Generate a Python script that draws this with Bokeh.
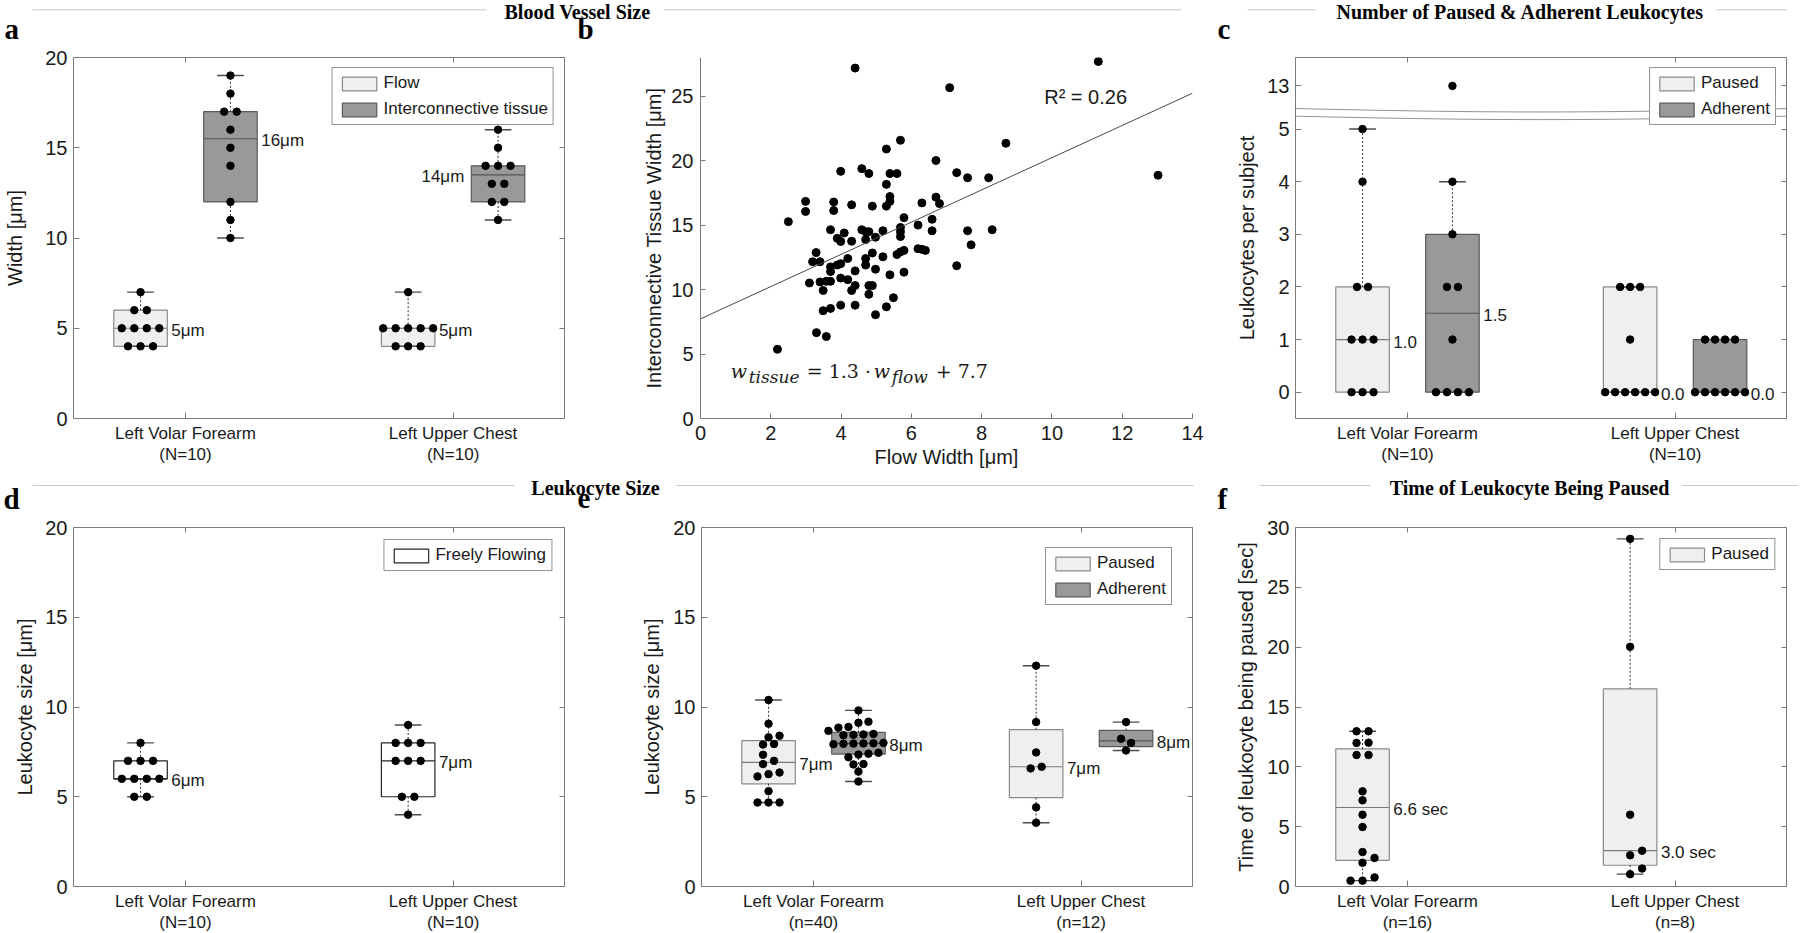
import numpy as np
from bokeh.plotting import figure
from bokeh.models import Range1d, LinearAxis, FixedTicker, Legend, LegendItem
from bokeh.layouts import column, row
from bokeh.core.properties import value
from bokeh.embed import file_html
from bokeh.resources import INLINE

# ============================ DATA ============================
site_names = ["Left Volar Forearm", "Left Upper Chest"]
section_titles = ["Blood Vessel Size", "Number of Paused & Adherent Leukocytes",
                  "Leukocyte Size", "Time of Leukocyte Being Paused"]
panel_letters = ["a", "b", "c", "d", "e", "f"]

# (a) blood vessel width per subject [um]
a_series = ["Flow", "Interconnective tissue"]
a_flow_forearm = [7, 6, 6, 5, 5, 5, 5, 4, 4, 4]
a_tissue_forearm = [19, 18, 17, 17, 16, 15, 14, 12, 11, 10]
a_flow_chest = [7, 5, 5, 5, 5, 5, 4, 4, 4]
a_tissue_chest = [16, 15, 14, 14, 14, 13, 13, 12, 12, 11]
a_counts = ["(N=10)", "(N=10)"]
a_yticks = [0, 5, 10, 15, 20]

# (b) interconnective tissue width vs flow width [um]
b_flow_width = [2.19, 2.50, 2.99, 2.99, 3.10, 3.29, 3.19, 3.40, 3.30, 3.58,
                3.40, 3.49, 3.49, 3.70, 3.58, 3.70, 3.70, 3.70, 3.70, 3.79,
                3.79, 3.89, 3.89, 3.99, 3.99, 3.99, 3.99, 3.99, 4.09, 4.19,
                4.19, 4.30, 4.30, 4.30, 4.40, 4.40, 4.40, 4.40, 4.59, 4.59,
                4.70, 4.70, 4.70, 4.70, 4.79, 4.79, 4.79, 4.79, 4.89, 4.89,
                4.89, 4.98, 4.98, 4.98, 5.19, 5.19, 5.29, 5.29, 5.29, 5.29,
                5.39, 5.39, 5.39, 5.39, 5.49, 5.59, 5.59, 5.69, 5.69, 5.69,
                5.69, 5.69, 5.79, 5.79, 5.79, 6.19, 6.19, 6.30, 6.30, 6.40,
                6.59, 6.59, 6.70, 6.70, 6.80, 7.09, 7.29, 7.29, 7.60, 7.60,
                7.70, 8.20, 8.30, 8.69, 11.32, 13.02]
b_tissue_width = [5.37, 15.27, 16.84, 16.06, 10.51, 12.87, 12.16, 12.16, 6.66, 6.36,
                  10.59, 9.93, 8.36, 8.54, 10.64, 10.64, 14.64, 11.76, 11.40, 16.79,
                  16.13, 13.98, 11.90, 19.17, 13.73, 12.01, 10.89, 8.79, 14.39, 12.41,
                  10.77, 16.57, 13.75, 9.93, 27.18, 11.45, 10.31, 8.79, 19.38, 14.64,
                  14.49, 13.88, 12.41, 11.90, 19.00, 14.49, 10.31, 9.63, 16.47, 12.84,
                  10.31, 14.06, 11.58, 8.05, 14.56, 12.54, 20.90, 18.16, 16.47, 8.66,
                  19.00, 17.22, 16.84, 11.14, 9.37, 19.00, 12.72, 21.58, 14.82, 14.49,
                  14.11, 12.92, 15.58, 13.04, 11.35, 15.00, 13.17, 16.72, 13.12, 13.04,
                  15.45, 14.56, 20.01, 17.17, 16.67, 25.66, 19.07, 11.85, 18.67, 14.56,
                  13.47, 18.67, 14.64, 21.35, 27.69, 18.87]
b_fit_slope = 1.25
b_fit_intercept = 7.73
b_r_squared = 0.26
b_eq_slope = 1.3
b_eq_intercept = 7.7
b_xticks = [0, 2, 4, 6, 8, 10, 12, 14]
b_yticks = [0, 5, 10, 15, 20, 25]

# (c) number of paused & adherent leukocytes per subject
c_series = ["Paused", "Adherent"]
c_paused_forearm = [5, 4, 2, 2, 1, 1, 1, 0, 0, 0]
c_adherent_forearm = [13, 4, 3, 2, 2, 1, 0, 0, 0, 0]
c_paused_chest = [2, 2, 2, 1, 0, 0, 0, 0, 0, 0]
c_adherent_chest = [1, 1, 1, 1, 0, 0, 0, 0, 0, 0]
c_counts = ["(N=10)", "(N=10)"]
c_yticks = [0, 1, 2, 3, 4, 5, 13]

# (d) freely flowing leukocyte size [um]
d_series = ["Freely Flowing"]
d_free_forearm = [8, 7, 7, 7, 6, 6, 6, 6, 5, 5]
d_free_chest = [9, 8, 8, 8, 7, 7, 7, 5, 5, 4]
d_counts = ["(N=10)", "(N=10)"]
d_yticks = [0, 5, 10, 15, 20]

# (e) paused / adherent leukocyte size [um]
e_series = ["Paused", "Adherent"]
e_paused_forearm = [10.39, 9.07, 8.40, 8.31, 7.94, 7.91, 7.34, 7.00, 6.82, 6.35,
                    6.26, 6.13, 5.31, 4.68, 4.68, 4.68]
e_adherent_forearm = [9.81, 9.18, 9.12, 8.89, 8.85, 8.67, 8.50, 8.47, 8.45, 8.43,
                      8.00, 7.98, 7.97, 7.96, 7.95, 7.93, 7.45, 7.40, 7.35, 7.20,
                      6.82, 6.80, 6.40, 5.85]
e_paused_chest = [12.30, 9.16, 7.47, 6.67, 6.58, 4.41, 3.55]
e_adherent_chest = [9.16, 8.23, 8.00, 7.58]
e_counts = ["(n=40)", "(n=12)"]
e_yticks = [0, 5, 10, 15, 20]

# (f) time of leukocyte being paused [sec]
f_series = ["Paused"]
f_paused_forearm = [12.97, 12.97, 12.02, 12.00, 10.99, 10.99, 7.95, 7.20, 6.00, 4.97,
                    2.88, 2.39, 1.98, 0.76, 0.49, 0.49]
f_paused_chest = [29.05, 20.03, 6.00, 2.99, 2.61, 1.50, 1.03]
f_counts = ["(n=16)", "(n=8)"]
f_yticks = [0, 5, 10, 15, 20, 25, 30]

# ============================ STYLE ============================
FONT = "Liberation Sans"
SERIF = "Liberation Serif"
MATH = "DejaVu Serif"
TXT = "#1a1a1a"
FRAME_COL = "#7a7a7a"
HDR_LINE = "#c8c8c8"
STYLES = {
    "light": dict(fill="#efefef", line="#8a8a8a", median="#7a7a7a"),
    "dark": dict(fill="#999999", line="#5a5a5a", median="#555555"),
    "white": dict(fill="#ffffff", line="#262626", median="#262626"),
}
X_START, X_END = 0.5815, 2.4163
BOX_OFF = 0.168
BOX_W = 0.2
CAP_W = 0.1
DOT = 7.5
WHISKER_IQR = 2.0
LETTER_SIZE = 29

TOTAL_W = 1798
HDR1 = (0, 45)
ROW1 = (45, 473)
HDR2 = (473, 515)
ROW2 = (515, 931)
# frames share top/bottom inside a row (Bokeh aligns frames of plots in a row)
FRAMES = {
    "a": (73, 57, 564, 418), "b": (700, 57, 1192, 418), "c": (1295, 57, 1786, 418),
    "d": (73, 527, 564, 886), "e": (701, 527, 1192, 886), "f": (1295, 527, 1786, 886),
}
PANEL_COLS = {"a": (0, 570), "b": (570, 1210), "c": (1210, TOTAL_W),
              "d": (0, 570), "e": (570, 1210), "f": (1210, TOTAL_W)}
# (left, baseline) of panel letters in page pixels
LETTER_POS = {"a": (4, 38.4), "b": (577, 38.4), "c": (1217, 38.4),
              "d": (3, 508), "e": (577, 508), "f": (1217, 508)}


def new_fig(col, rowb, frame, x_range, y_range):
    cl, cr = col
    rt, rb = rowb
    fl, ft, fr, fb = frame
    p = figure(frame_width=fr - fl, frame_height=fb - ft,
               min_border_left=fl - cl, min_border_right=cr - fr,
               min_border_top=ft - rt, min_border_bottom=rb - fb,
               x_range=x_range, y_range=y_range,
               output_backend="svg", toolbar_location=None, tools="")
    p.grid.visible = False
    p.background_fill_color = "white"
    p.border_fill_color = "white"
    return p


def style_axis(ax, size, standoff, label_standoff=6):
    ax.major_label_text_font = FONT
    ax.major_label_text_font_size = size
    ax.major_label_text_color = TXT
    ax.major_label_standoff = standoff
    ax.axis_label_text_font = FONT
    ax.axis_label_text_font_size = "20px"
    ax.axis_label_text_font_style = "normal"
    ax.axis_label_text_color = TXT
    ax.axis_label_standoff = label_standoff
    ax.major_tick_in = 6
    ax.major_tick_out = 0
    ax.major_tick_line_color = FRAME_COL
    ax.minor_tick_line_color = None


def inner_ticks(p, xticks, yticks):
    for loc, ticks in (("above", xticks), ("right", yticks)):
        ax = LinearAxis(ticker=FixedTicker(ticks=ticks))
        ax.major_label_text_font_size = "1px"
        ax.major_label_text_color = None
        ax.major_label_standoff = 0
        ax.axis_line_color = None
        ax.major_tick_in = 5
        ax.major_tick_out = 0
        ax.major_tick_line_color = FRAME_COL
        ax.minor_tick_line_color = None
        p.add_layout(ax, loc)


def swarm_offsets(vals, px_y, spacing, min_px=8.5, tie_px=0.5):
    v = np.asarray(vals, float)
    ypx = v * px_y
    order = np.argsort(ypx, kind="stable")
    offs = np.zeros(len(v))
    placed = []
    shifts = [0.0]
    for k in range(1, 12):
        shifts += [k * spacing / 2, -k * spacing / 2]
    i = 0
    while i < len(order):
        j = i
        while j + 1 < len(order) and ypx[order[j + 1]] - ypx[order[i]] < tie_px:
            j += 1
        grp = order[i:j + 1]
        base = (np.arange(len(grp)) - (len(grp) - 1) / 2) * spacing
        for sh in shifts:
            xs = base + sh
            ok = True
            for x, g in zip(xs, grp):
                for (qx, qy) in placed:
                    if (x - qx) ** 2 + (ypx[g] - qy) ** 2 < min_px ** 2:
                        ok = False
                        break
                if not ok:
                    break
            if ok:
                break
        for x, g in zip(xs, grp):
            offs[g] = x
            placed.append((x, ypx[g]))
        i = j + 1
    return offs


def draw_box(p, vals, xc, sty, px_x, px_y, spacing, label, side="right",
             T=lambda v: v, tie_px=0.5):
    v = np.asarray(vals, float)
    q1, med, q3 = np.percentile(v, [25, 50, 75], method="hazen")
    iqr = q3 - q1
    inside = v[(v >= q1 - WHISKER_IQR * iqr) & (v <= q3 + WHISKER_IQR * iqr)]
    lo, hi = inside.min(), inside.max()
    s = STYLES[sty]
    r = p.quad(left=[xc - BOX_W / 2], right=[xc + BOX_W / 2], bottom=[T(q1)], top=[T(q3)],
               fill_color=s["fill"], line_color=s["line"], line_width=1.2)
    p.segment(x0=[xc, xc], y0=[T(q3), T(q1)], x1=[xc, xc], y1=[T(hi), T(lo)],
              line_color="#444444", line_dash="2 2", line_width=1.1)
    p.segment(x0=[xc - CAP_W / 2] * 2, y0=[T(hi), T(lo)], x1=[xc + CAP_W / 2] * 2,
              y1=[T(hi), T(lo)], line_color="#4d4d4d", line_width=1.4)
    p.segment(x0=[xc - BOX_W / 2], y0=[T(med)], x1=[xc + BOX_W / 2], y1=[T(med)],
              line_color=s["median"], line_width=1.2)
    offs = swarm_offsets(v, px_y, spacing, tie_px=tie_px)
    p.scatter(x=xc + offs / px_x, y=[T(a) for a in v], size=DOT, color="black")
    txt = label(med)
    if side == "right":
        p.text(x=[xc + BOX_W / 2], y=[T(med)], text=[txt], x_offset=4, y_offset=2,
               text_font=value(FONT), text_font_size="17px", text_color=TXT,
               text_align="left", text_baseline="middle")
    else:
        p.text(x=[xc - BOX_W / 2], y=[T(med)], text=[txt], x_offset=-7, y_offset=2,
               text_font=value(FONT), text_font_size="17px", text_color=TXT,
               text_align="right", text_baseline="middle")
    return r


def add_legend(p, items, margin):
    lg = Legend(items=[LegendItem(label=l, renderers=[r]) for l, r in items],
                location="top_right", margin=margin,
                label_text_font=FONT, label_text_font_size="17px", label_text_color=TXT,
                glyph_width=43, glyph_height=17, label_height=17, label_standoff=3,
                padding=5, spacing=6, border_line_color="#262626", border_line_width=1,
                background_fill_color="white", background_fill_alpha=1.0)
    p.add_layout(lg)


def cat_panel(key, rowb, ylim, yticks, ylabel, counts, lab_standoff,
              tick_pos=None, tick_overrides=None):
    frame = FRAMES[key]
    p = new_fig(PANEL_COLS[key], rowb, frame, Range1d(X_START, X_END), Range1d(*ylim))
    p.outline_line_color = FRAME_COL
    p.outline_line_width = 1
    p.xaxis.ticker = FixedTicker(ticks=[1, 2])
    p.xaxis.major_label_overrides = {i + 1: f"{site_names[i]}\n{counts[i]}" for i in range(2)}
    style_axis(p.xaxis[0], "17px", 5)
    p.xaxis.major_label_text_line_height = 1.15
    p.xaxis.axis_line_color = None
    tp = tick_pos if tick_pos is not None else yticks
    p.yaxis.ticker = FixedTicker(ticks=tp)
    if tick_overrides:
        p.yaxis.major_label_overrides = tick_overrides
    style_axis(p.yaxis[0], "20px", 6, lab_standoff)
    p.yaxis.axis_label = ylabel
    p.yaxis.axis_line_color = None
    inner_ticks(p, [1, 2], tp)
    fl, ft, fr, fb = frame
    px_x = (fr - fl) / (X_END - X_START)
    px_y = (fb - ft) / (ylim[1] - ylim[0])
    return p, px_x, px_y


um_label = lambda m: f"{int(np.floor(m + 0.5))}\u03bcm"

# ---------------- panel a ----------------
pa, ax_, ay_ = cat_panel("a", ROW1, (0, 20), a_yticks, "Width [\u03bcm]", a_counts, 16)
ra1 = draw_box(pa, a_flow_forearm, 1 - BOX_OFF, "light", ax_, ay_, 12.5, um_label)
ra2 = draw_box(pa, a_tissue_forearm, 1 + BOX_OFF, "dark", ax_, ay_, 12.5, um_label)
draw_box(pa, a_flow_chest, 2 - BOX_OFF, "light", ax_, ay_, 12.5, um_label)
draw_box(pa, a_tissue_chest, 2 + BOX_OFF, "dark", ax_, ay_, 12.5, um_label, side="left")
add_legend(pa, [(a_series[0], ra1), (a_series[1], ra2)], 10)

# ---------------- panel b ----------------
pb = new_fig(PANEL_COLS["b"], ROW1, FRAMES["b"], Range1d(0, 14), Range1d(0, 28))
pb.outline_line_color = None
pb.xaxis.ticker = FixedTicker(ticks=b_xticks)
pb.yaxis.ticker = FixedTicker(ticks=b_yticks)
style_axis(pb.xaxis[0], "20px", 7, 3)
style_axis(pb.yaxis[0], "20px", 7, 3)
for axx in (pb.xaxis[0], pb.yaxis[0]):
    axx.axis_line_color = FRAME_COL
    axx.major_tick_in = 5
pb.xaxis.axis_label = "Flow Width [\u03bcm]"
pb.yaxis.axis_label = "Interconnective Tissue Width [\u03bcm]"
pb.scatter(x=b_flow_width, y=b_tissue_width, size=8, color="black")
fit_x = np.array([pb.x_range.start, pb.x_range.end])
pb.line(x=fit_x, y=b_fit_intercept + b_fit_slope * fit_x, line_color="#4a4a4a", line_width=1)
pb.text(x=[9.78], y=[24.9], text=[f"R\u00b2 = {b_r_squared:.2f}"], text_font=value(FONT),
        text_font_size="20px", text_color=TXT, text_align="left", text_baseline="middle")
eq_parts = [("w", 0, 0, "italic", "19px"), ("tissue", 18, 6, "italic", "17px"),
            (f"= {b_eq_slope} \u00b7", 76, 0, "normal", "19px"),
            ("w", 143, 0, "italic", "19px"), ("flow", 161, 6, "italic", "17px"),
            (f"+ {b_eq_intercept}", 205, 0, "normal", "19px")]
for t, dx, dy, st, fs in eq_parts:
    pb.text(x=[0.86], y=[3.72], text=[t], x_offset=dx, y_offset=dy, text_font=value(MATH),
            text_font_style=st, text_font_size=fs, text_color=TXT, text_align="left",
            text_baseline="middle")

# ---------------- panel c (broken axis) ----------------
C_BREAK_BELOW = 5.2
C_UPPER_POS = 5.82


def c_display(v):
    return v if v <= C_BREAK_BELOW else C_UPPER_POS + (v - c_yticks[-1]) * 0.05


c_tick_pos = [c_display(t) for t in c_yticks]
c_over = {c_display(t): str(t) for t in c_yticks if t > C_BREAK_BELOW}
pc, cx_, cy_ = cat_panel("c", ROW1, (-0.5, 6.36), c_yticks, "Leukocytes per subject",
                         c_counts, 6, tick_pos=c_tick_pos, tick_overrides=c_over)
lab1 = lambda m: f"{m:.1f}"
rc1 = draw_box(pc, c_paused_forearm, 1 - BOX_OFF, "light", cx_, cy_, 11, lab1, T=c_display)
rc2 = draw_box(pc, c_adherent_forearm, 1 + BOX_OFF, "dark", cx_, cy_, 11, lab1, T=c_display)
draw_box(pc, c_paused_chest, 2 - BOX_OFF, "light", cx_, cy_, 10, lab1, T=c_display)
draw_box(pc, c_adherent_chest, 2 + BOX_OFF, "dark", cx_, cy_, 10, lab1, T=c_display)
bx = np.linspace(X_START, X_END, 60)
bt = (bx - X_START) / (X_END - X_START)
for base in (5.39, 5.245):
    pc.line(x=bx, y=base - 0.065 * np.sin(np.pi * bt), line_color="#222222",
            line_dash="1 1", line_width=1)
add_legend(pc, [(c_series[0], rc1), (c_series[1], rc2)], 10)

# ---------------- panel d ----------------
pd_, dx_, dy_ = cat_panel("d", ROW2, (0, 20), d_yticks, "Leukocyte size [\u03bcm]",
                          d_counts, 6)
rd = draw_box(pd_, d_free_forearm, 1 - BOX_OFF, "white", dx_, dy_, 12.5, um_label)
draw_box(pd_, d_free_chest, 2 - BOX_OFF, "white", dx_, dy_, 12.5, um_label)
add_legend(pd_, [(d_series[0], rd)], 12)

# ---------------- panel e ----------------
pe, ex_, ey_ = cat_panel("e", ROW2, (0, 20), e_yticks, "Leukocyte size [\u03bcm]",
                         e_counts, 7)
re1 = draw_box(pe, e_paused_forearm, 1 - BOX_OFF, "light", ex_, ey_, 11, um_label, tie_px=4)
re2 = draw_box(pe, e_adherent_forearm, 1 + BOX_OFF, "dark", ex_, ey_, 10, um_label, tie_px=4)
draw_box(pe, e_paused_chest, 2 - BOX_OFF, "light", ex_, ey_, 11, um_label, tie_px=4)
draw_box(pe, e_adherent_chest, 2 + BOX_OFF, "dark", ex_, ey_, 10, um_label, tie_px=4)
add_legend(pe, [(e_series[0], re1), (e_series[1], re2)], 20)

# ---------------- panel f ----------------
pf, fx_, fy_ = cat_panel("f", ROW2, (0, 30), f_yticks,
                         "Time of leukocyte being paused [sec]", f_counts, 7)
sec_label = lambda m: f"{m:.1f} sec"
rf = draw_box(pf, f_paused_forearm, 1 - BOX_OFF, "light", fx_, fy_, 12, sec_label, tie_px=4)
draw_box(pf, f_paused_chest, 2 - BOX_OFF, "light", fx_, fy_, 12, sec_label, tie_px=4)
add_legend(pf, [(f_series[0], rf)], 11)


# ---------------- section headers (with panel letters) ----------------
def header_fig(band, entries, letters):
    top, bot = band
    h = bot - top
    p = figure(frame_width=TOTAL_W, frame_height=h, x_range=Range1d(0, TOTAL_W),
               y_range=Range1d(bot, top), min_border=0, x_axis_type=None, y_axis_type=None,
               output_backend="svg", toolbar_location=None, tools="")
    p.outline_line_color = None
    p.grid.visible = False
    p.border_fill_color = "white"
    for text, cx, l0, l1, r0, r1, y in entries:
        p.segment(x0=[l0, r0], y0=[y - 2, y - 2], x1=[l1, r1], y1=[y - 2, y - 2],
                  line_color=HDR_LINE, line_width=1)
        p.text(x=[cx], y=[y], text=[text], text_font=value(SERIF), text_font_style="bold",
               text_font_size="20px", text_align="center", text_baseline="middle",
               text_color="black")
    for txt, (lx, base) in letters:
        p.text(x=[lx], y=[base - 0.3375 * LETTER_SIZE], text=[txt], text_font=value(SERIF),
               text_font_style="bold", text_font_size=f"{LETTER_SIZE}px", text_align="left",
               text_baseline="middle", text_color="black")
    return p


h1 = header_fig(HDR1, [(section_titles[0], 577, 32, 486, 663, 1181, 11.3),
                       (section_titles[1], 1520, 1247, 1315, 1715, 1786, 11.3)],
                [(panel_letters[i], LETTER_POS[k]) for i, k in enumerate("abc")])
h2 = header_fig(HDR2, [(section_titles[2], 595, 32, 514, 676, 1193, 487),
                       (section_titles[3], 1529, 1259, 1370, 1682, 1797, 487)],
                [(panel_letters[i + 3], LETTER_POS[k]) for i, k in enumerate("def")])

layout = column(h1, row(pa, pb, pc), h2, row(pd_, pe, pf))
open("out.html", "w").write(file_html(layout, INLINE, title="Leukocyte figure"))
